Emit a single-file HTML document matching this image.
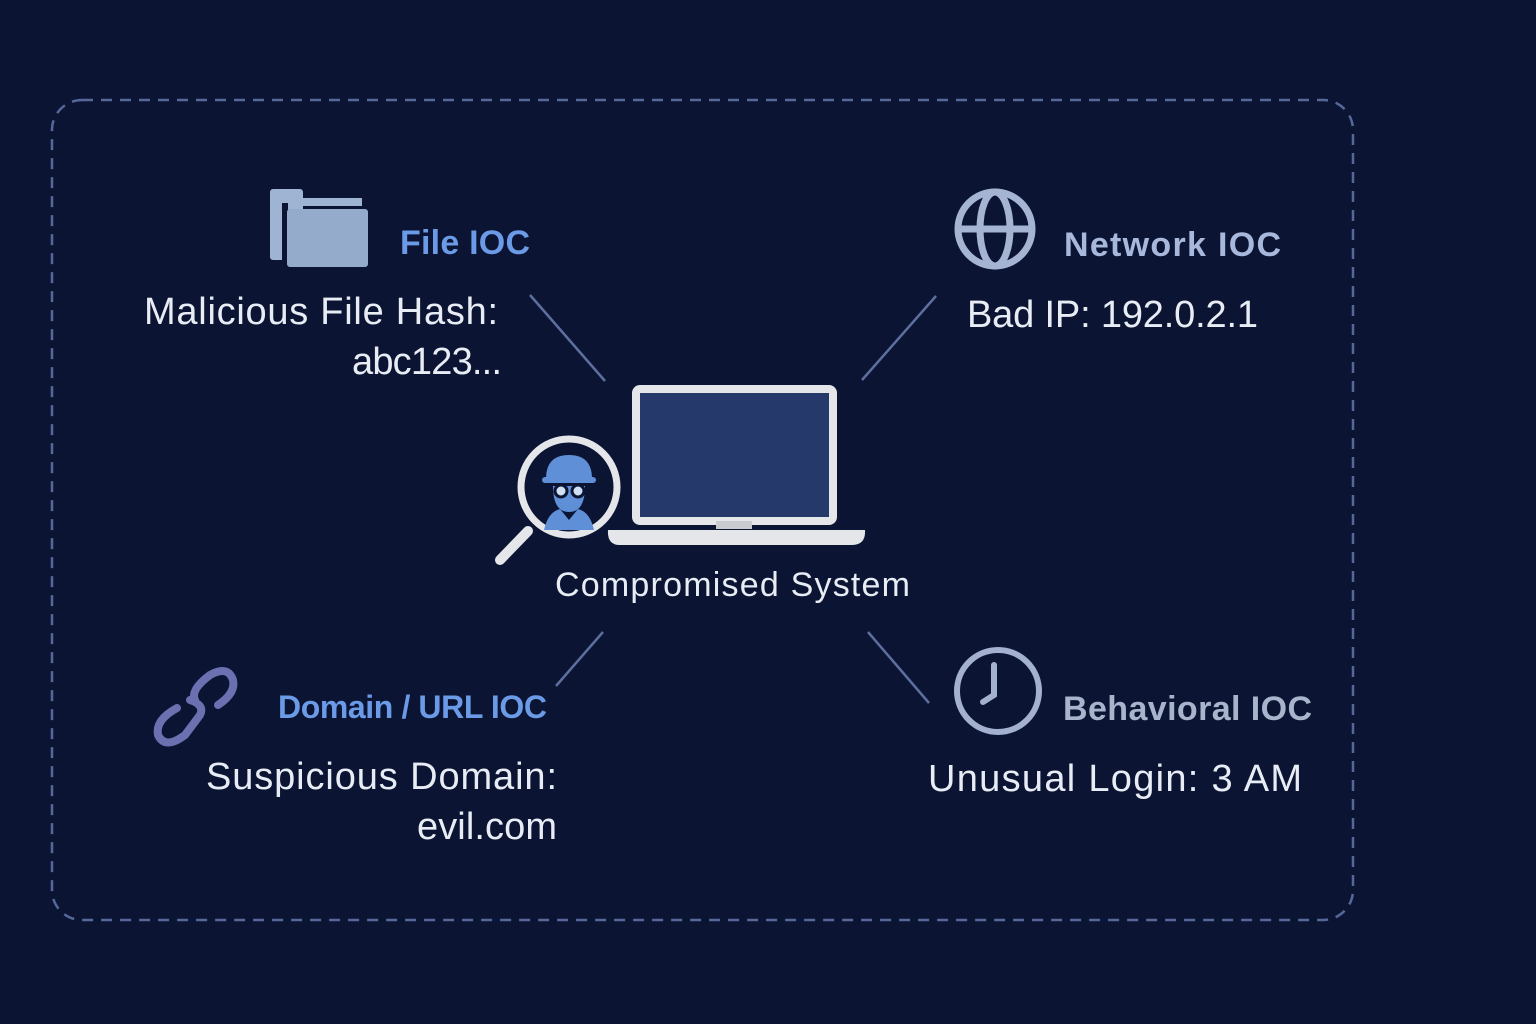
<!DOCTYPE html>
<html><head><meta charset="utf-8"><style>
html,body{margin:0;padding:0;background:#0b1533;}
svg{display:block}
text{font-family:"Liberation Sans",sans-serif;}
</style></head><body>
<svg width="1536" height="1024" viewBox="0 0 1536 1024" xmlns="http://www.w3.org/2000/svg">
<rect width="1536" height="1024" fill="#0b1533"/>
<rect x="52" y="100" width="1301" height="820" rx="30" fill="none" stroke="#56679a" stroke-width="2.5" stroke-dasharray="11 8"/>
<g stroke="#5d6f9e" stroke-width="2.5">
<line x1="530" y1="295" x2="605" y2="381"/>
<line x1="936" y1="296" x2="862" y2="380"/>
<line x1="603" y1="632" x2="556" y2="686"/>
<line x1="868" y1="632" x2="929" y2="703"/>
</g>
<rect x="270" y="189" width="33" height="71" rx="3" fill="#9fb3d3"/>
<rect x="290" y="198" width="72" height="8" fill="#9fb3d3"/>
<rect x="282" y="203" width="6" height="60" fill="#0b1533"/>
<rect x="287" y="209" width="81" height="58" rx="3" fill="#95abcc"/>
<text x="400" y="254" font-size="34" font-weight="bold" fill="#6b9ae6" textLength="130">File IOC</text>
<text x="144" y="324" font-size="38" fill="#e8ecf4" textLength="354">Malicious File Hash:</text>
<text x="352" y="374" font-size="38" fill="#e8ecf4" textLength="150">abc123...</text>
<g fill="none" stroke="#a6b4d4" stroke-width="7">
<circle cx="995" cy="229" r="37"/>
<ellipse cx="995" cy="229" rx="15" ry="37"/>
<line x1="958" y1="229" x2="1032" y2="229"/>
</g>
<text x="1064" y="256" font-size="34" font-weight="bold" fill="#a8b8dc" textLength="217">Network IOC</text>
<text x="967" y="327" font-size="38" fill="#e8ecf4" textLength="291">Bad IP: 192.0.2.1</text>
<rect x="636" y="389" width="197" height="132" rx="4" fill="#253a6a" stroke="#e4e6ea" stroke-width="8"/>
<path d="M608 530 H865 Q866 545 852 545 H620 Q607 545 608 530 Z" fill="#e4e6ea"/>
<rect x="716" y="521" width="36" height="8" fill="#c8cad0"/>
<line x1="500" y1="560" x2="528" y2="531" stroke="#e4e6ea" stroke-width="10" stroke-linecap="round"/>
<circle cx="569" cy="487" r="48" fill="#0b1533" stroke="#e4e6ea" stroke-width="7"/>
<g fill="#5f8fd6">
<path d="M546 479 Q546 455 569 455 Q592 455 592 479 Z"/>
<rect x="542" y="477" width="54" height="6" rx="3"/>
<path d="M553 486 Q553 512 569 512 Q585 512 585 486 Z"/>
<path d="M544 530 Q548 512 560 509 L569 520 L578 509 Q590 512 594 530 Z"/>
</g>
<circle cx="561" cy="491" r="6" fill="#cfe0f5" stroke="#0b1533" stroke-width="3"/>
<circle cx="578" cy="491" r="6" fill="#cfe0f5" stroke="#0b1533" stroke-width="3"/>
<text x="555" y="596" font-size="34" fill="#e8ecf4" textLength="355">Compromised System</text>
<g fill="none" stroke="#6a70b0" stroke-width="8" stroke-linecap="round">
<path d="M177 708 Q155 720 158 735 Q165 750 185 735 L200 715 Q205 705 190 700"/>
<path d="M195 700 Q190 690 210 675 Q228 665 233 680 Q236 693 218 705"/>
</g>
<text x="278" y="718" font-size="32" font-weight="bold" fill="#6b9ae6" textLength="269">Domain / URL IOC</text>
<text x="206" y="789" font-size="38" fill="#e8ecf4" textLength="351">Suspicious Domain:</text>
<text x="417" y="839" font-size="38" fill="#e8ecf4" textLength="140">evil.com</text>
<circle cx="998" cy="691" r="41" fill="none" stroke="#a4b0d0" stroke-width="6"/>
<path d="M994 665 V695 L983 702" fill="none" stroke="#a4b0d0" stroke-width="6" stroke-linecap="round"/>
<text x="1063" y="720" font-size="34" font-weight="bold" fill="#a8b4cc" textLength="249">Behavioral IOC</text>
<text x="928" y="791" font-size="38" fill="#e8ecf4" textLength="374">Unusual Login: 3 AM</text>
</svg>
</body></html>
